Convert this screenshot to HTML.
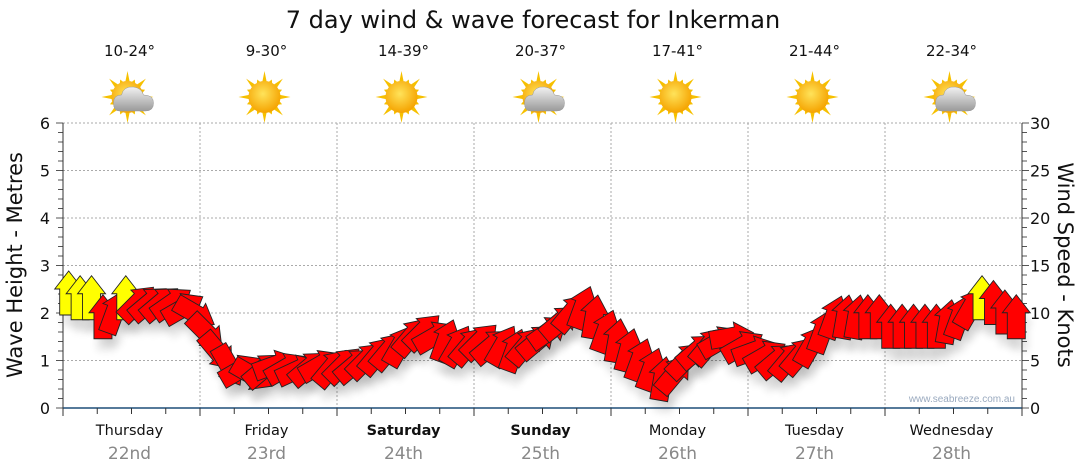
<!DOCTYPE html>
<html><head><meta charset="utf-8"><style>
body{margin:0;background:#fff;width:1080px;height:475px;overflow:hidden;font-family:"DejaVu Sans","Liberation Sans",sans-serif}
svg{display:block}
</style></head><body>
<svg id="chart" width="1080" height="475">
<defs>
<radialGradient id="sunG" cx="45%" cy="40%" r="60%"><stop offset="0" stop-color="#ffe35a"/><stop offset="1" stop-color="#f5a300"/></radialGradient>
<linearGradient id="cloudG" x1="0" y1="0" x2="0" y2="1"><stop offset="0" stop-color="#f2f2f2"/><stop offset="1" stop-color="#9a9a9a"/></linearGradient>
<filter id="sh" x="-20%" y="-20%" width="140%" height="160%"><feGaussianBlur stdDeviation="4"/></filter>
</defs>
<text x="533" y="28" text-anchor="middle" font-size="24" fill="#111">7 day wind &amp; wave forecast for Inkerman</text>
<g id="grid"></g><g id="axes"></g><g id="icons"></g><g id="marks"></g>
<text x="1015" y="402" text-anchor="end" font-size="10" fill="#9aaabf" font-family="Liberation Sans, sans-serif">www.seabreeze.com.au</text>
<text transform="translate(22,265) rotate(-90)" text-anchor="middle" font-size="21" fill="#111">Wave Height - Metres</text>
<text transform="translate(1058,265) rotate(90)" text-anchor="middle" font-size="21" fill="#111">Wind Speed - Knots</text>
</svg>
<script>
const days=["Thursday","Friday","Saturday","Sunday","Monday","Tuesday","Wednesday"];
const dates=["22nd","23rd","24th","25th","26th","27th","28th"];
const boldDays=[false,false,true,true,false,false,false];
const temps=["10-24°","9-30°","14-39°","20-37°","17-41°","21-44°","22-34°"];
const cloudy=[true,false,false,true,false,false,true];
const waveTicks=[0,1,2,3,4,5,6];
const windTicks=[0,5,10,15,20,25,30];
// wind speed (knots), 2-hourly
const windSpeed=[12,11.5,11.5,9.5,10,11.5,11,11,11,11,10.5,10,
8,6,4.5,4,3.5,4,4.5,4.2,4,4.2,4.5,4.2,
4.5,4.5,5,5.5,6,6.5,7.5,8,7.5,7,6.5,6.5,
7,6.5,6.5,6,6.5,7,8,9,10,10.5,9.5,8,
7,6,5,4,3,3.5,5,6,6.5,7,7.5,6.5,
6,5.5,5,5,5.5,6.5,8,9.5,9.5,9.5,9.5,9.5,
8.5,8.5,8.5,8.5,8.5,9,9.5,10.5,11.5,11,10,9.5];
// direction arrow points to (deg clockwise from up)
const windDir=[0,0,0,0,20,0,45,50,50,55,60,120,
135,140,150,60,120,50,70,60,65,50,60,40,
45,50,45,40,40,30,40,45,60,20,30,40,
45,50,30,20,40,50,55,50,40,20,10,20,
10,15,20,20,10,40,45,50,40,60,80,60,
70,60,50,40,40,30,20,20,10,10,0,0,
0,0,0,0,0,10,20,30,0,0,0,0];
const windCol=[1,1,1,0,0,1,0,0,0,0,0,0,
0,0,0,0,0,0,0,0,0,0,0,0,0,0,0,0,0,0,0,0,0,0,0,0,
0,0,0,0,0,0,0,0,0,0,0,0,0,0,0,0,0,0,0,0,0,0,0,0,
0,0,0,0,0,0,0,0,0,0,0,0,
0,0,0,0,0,0,0,0,1,0,0,0];
const NS="http://www.w3.org/2000/svg";
const X0=63,X1=1022,Y0=408,Y1=123,dayW=(X1-X0)/7;
const yW=v=>Y0-(v/6)*(Y0-Y1);
const yK=v=>Y0-(v/30)*(Y0-Y1);
const xT=h=>X0+h/24*dayW;
function mk(tag,attrs,parent){const e=document.createElementNS(NS,tag);for(const k in attrs)e.setAttribute(k,attrs[k]);parent.appendChild(e);return e;}
const grid=document.getElementById('grid'),axes=document.getElementById('axes'),icons=document.getElementById('icons'),marks=document.getElementById('marks');
waveTicks.forEach(v=>{if(v>0){const l=mk('line',{x1:X0,x2:X1,y1:yW(v),y2:yW(v),stroke:'#aaa','stroke-dasharray':'2,2'},grid);

}
const t=mk('text',{x:50,y:yW(v)+6,'text-anchor':'end','font-size':16,fill:'#111'},axes);t.textContent=v;

});
for(let i=0;i<=30;i++){const y=yW(i/5);mk('line',{x1:X0-(i%5==0?7:5),x2:X0,y1:y,y2:y,stroke:'#555'},axes);}
windTicks.forEach(v=>{const t=mk('text',{x:1030,y:yK(v)+6,'font-size':16,fill:'#111'},axes);t.textContent=v;

});
for(let i=0;i<=30;i++){const y=yK(i);mk('line',{x1:X1,x2:X1+(i%5==0?7:5),y1:y,y2:y,stroke:'#555'},axes);}
mk('line',{x1:X0,x2:X0,y1:Y1,y2:Y0,stroke:'#333'},axes);
mk('line',{x1:X1,x2:X1,y1:Y1,y2:Y0,stroke:'#333'},axes);
mk('line',{x1:X0,x2:X1,y1:Y0,y2:Y0,stroke:'#1f4e79','stroke-width':1.5},axes);
for(let h=0;h<=168;h+=6){const x=xT(h);mk('line',{x1:x,x2:x,y1:Y0,y2:Y0+(h%24==0?8:6),stroke:'#333'},axes);}
days.forEach((d,i)=>{const cx=X0+dayW*(i+0.5);
if(i>0){const l=mk('line',{x1:X0+dayW*i,x2:X0+dayW*i,y1:Y1,y2:Y0,stroke:'#aaa','stroke-dasharray':'2,2'},grid);

}
const t=mk('text',{x:cx-2,y:435,'text-anchor':'middle','font-size':14.5,fill:'#111','font-weight':boldDays[i]?'bold':'normal'},axes);t.textContent=d;


const t2=mk('text',{x:cx-2,y:459,'text-anchor':'middle','font-size':17,fill:'#888'},axes);t2.textContent=dates[i];


const tt=mk('text',{x:cx-2,y:56,'text-anchor':'middle','font-size':15,fill:'#111'},icons);tt.textContent=temps[i];


const g=mk('g',{transform:`translate(${cx-4},97)`},icons);


let rays='';for(let k=0;k<16;k++){const a=k*Math.PI/8,r=k%2?19:26,a1=a-0.15,a2=a+0.15;rays+=`M${15*Math.sin(a1)},${-15*Math.cos(a1)}L${r*Math.sin(a)},${-r*Math.cos(a)}L${15*Math.sin(a2)},${-15*Math.cos(a2)}Z`;}
mk('path',{d:rays,fill:'#f6c000'},g);
mk('circle',{r:16,fill:'url(#sunG)'},g);
if(cloudy[i]){mk('path',{d:'M-8,14 Q-14,14 -14,6 Q-14,-2 -6,-2 Q-4,-11 6,-10 Q14,-9 16,-2 Q26,-2 26,6 Q26,14 18,14 Z',fill:'url(#cloudG)',stroke:'#999','stroke-width':0.5},g);}
});
const arrow='M0,-23 L14,-5 L9,-5 L9,21 L-9,21 L-9,-5 L-14,-5 Z';
windSpeed.forEach((s,i)=>{const x=xT(i*2+1),y=yK(s);
mk('path',{d:arrow,fill:'#000',opacity:0.1,filter:'url(#sh)',transform:`translate(${x+3},${y+12}) rotate(${windDir[i]})`},marks);});
windSpeed.forEach((s,i)=>{const x=xT(i*2+1),y=yK(s);
const p=mk('path',{d:arrow,fill:windCol[i]?'#ffff00':'#ff0000',stroke:'#222','stroke-width':0.9,transform:`translate(${x},${y}) rotate(${windDir[i]})`},marks);

});
</script>
</body></html>
